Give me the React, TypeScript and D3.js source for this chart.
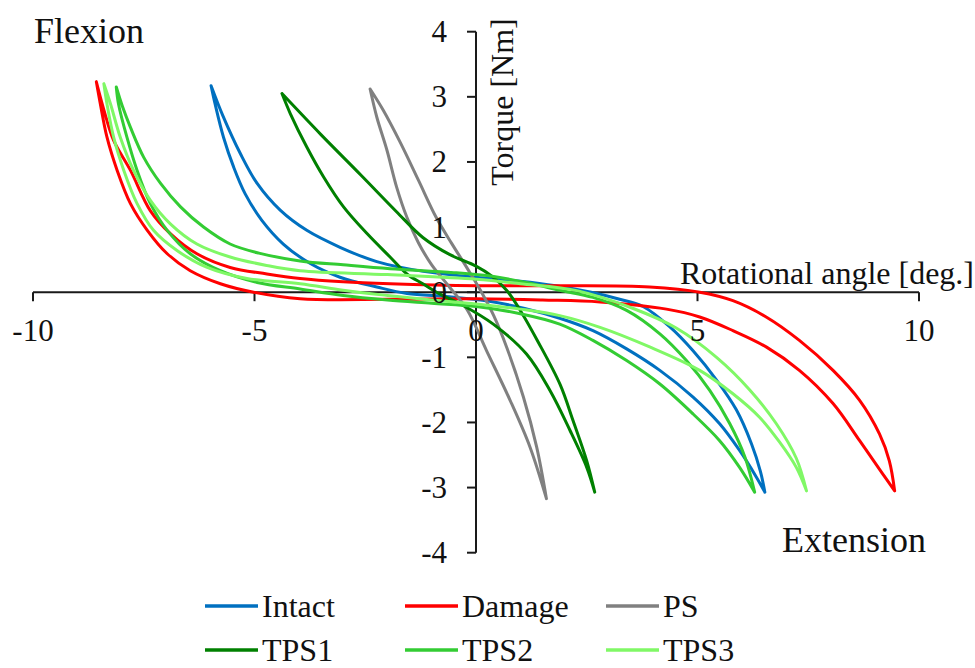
import React from 'react';
import * as d3 from 'd3';

type Pt = [number, number];

// axis ticks
const xTicks = [-10, -5, 0, 5, 10];
const yTicks = [-4, -3, -2, -1, 0, 1, 2, 3, 4];

// each loop: loading branch (flexion tip -> extension tip) and unloading branch (back)
const intactUp: Pt[] = [
  [-5.98, 3.17], [-5.72, 2.72], [-5.32, 2.13], [-4.94, 1.67], [-4.42, 1.26], [-3.82, 0.95],
  [-3.07, 0.69], [-2.24, 0.47], [-1.19, 0.32], [0, 0.23], [1.0, 0.17], [1.8, 0.1], [2.6, 0.0],
  [3.2, -0.1], [3.77, -0.22], [4.37, -0.53], [4.9, -0.9], [5.43, -1.35], [5.88, -1.81],
  [6.22, -2.33], [6.42, -2.75], [6.52, -3.07],
];
const intactDown: Pt[] = [
  [6.52, -3.07], [6.33, -2.84], [5.95, -2.43], [5.5, -2.02], [4.9, -1.61], [4.15, -1.2],
  [3.4, -0.87], [2.64, -0.59], [1.89, -0.4], [1.1, -0.25], [0.3, -0.14], [-0.6, -0.07],
  [-1.56, -0.02], [-2.24, 0.08], [-3.07, 0.23], [-3.74, 0.44], [-4.35, 0.74], [-4.83, 1.1],
  [-5.21, 1.51], [-5.47, 1.92], [-5.7, 2.38], [-5.89, 2.89], [-5.98, 3.17],
];

const damageUp: Pt[] = [
  [-8.57, 3.23], [-8.4, 2.8], [-8.18, 2.33], [-7.8, 1.87], [-7.35, 1.25], [-6.9, 0.9],
  [-6.3, 0.59], [-5.55, 0.38], [-4.72, 0.28], [-3.97, 0.21], [-3.0, 0.16], [-1.94, 0.13],
  [0, 0.1], [2, 0.1], [3.92, 0.08], [5.05, 0.0], [5.8, -0.13], [6.55, -0.38], [7.3, -0.74],
  [8.06, -1.2], [8.66, -1.66], [9.11, -2.18], [9.33, -2.59], [9.45, -3.05],
];
const damageDown: Pt[] = [
  [9.45, -3.05], [9.18, -2.79], [8.66, -2.28], [8.06, -1.71], [7.3, -1.2], [6.55, -0.84],
  [5.8, -0.59], [5.05, -0.38], [4.3, -0.26], [2.8, -0.15], [1.5, -0.12], [0, -0.1],
  [-2.0, -0.11], [-3.97, -0.1], [-5.02, 0.0], [-5.77, 0.13], [-6.45, 0.33], [-6.97, 0.59],
  [-7.42, 0.95], [-7.8, 1.36], [-8.1, 1.87], [-8.33, 2.38], [-8.48, 2.89], [-8.57, 3.23],
];

const psUp: Pt[] = [
  [-2.39, 3.12], [-2.09, 2.79], [-1.71, 2.3], [-1.3, 1.72], [-0.9, 1.15], [-0.55, 0.75],
  [-0.2, 0.37], [0.1, 0.03], [0.4, -0.36], [0.69, -0.84], [1.07, -1.61], [1.37, -2.38],
  [1.59, -3.17],
];
const psDown: Pt[] = [
  [1.59, -3.17], [1.22, -2.38], [0.77, -1.66], [0.24, -0.9], [-0.2, -0.27], [-0.6, 0.08],
  [-1.0, 0.42], [-1.3, 0.76], [-1.56, 1.15], [-1.79, 1.61], [-2.01, 2.18], [-2.24, 2.69],
  [-2.39, 3.12],
];

const tps1Up: Pt[] = [
  [-4.38, 3.05], [-3.5, 2.42], [-2.6, 1.8], [-1.8, 1.24], [-1.2, 0.84], [-0.6, 0.58],
  [0, 0.4], [0.35, 0.25], [0.69, 0.03], [1.0, -0.28], [1.4, -0.76], [1.9, -1.42],
  [2.19, -1.97], [2.5, -2.59], [2.68, -3.07],
];
const tps1Down: Pt[] = [
  [2.68, -3.07], [2.5, -2.69], [2.12, -2.12], [1.67, -1.51], [1.14, -0.95], [0.39, -0.49],
  [-0.3, -0.2], [-0.81, -0.03], [-1.2, 0.13], [-1.56, 0.28], [-1.94, 0.54], [-2.46, 0.9],
  [-2.99, 1.31], [-3.44, 1.77], [-3.82, 2.23], [-4.19, 2.74], [-4.38, 3.05],
];

const tps2Up: Pt[] = [
  [-8.12, 3.15], [-7.98, 2.85], [-7.8, 2.53], [-7.5, 2.07], [-7.12, 1.67], [-6.67, 1.31],
  [-6.15, 1.0], [-5.55, 0.74], [-4.9, 0.6], [-3.97, 0.48], [-3.0, 0.42], [-1.94, 0.36],
  [-0.5, 0.3], [0.4, 0.24], [1.2, 0.14], [1.89, 0.03], [2.64, -0.08], [3.4, -0.28],
  [4.15, -0.64], [4.75, -1.05], [5.28, -1.51], [5.73, -2.02], [6.07, -2.53], [6.29, -3.07],
];
const tps2Down: Pt[] = [
  [6.29, -3.07], [5.95, -2.69], [5.5, -2.28], [4.9, -1.87], [4.15, -1.41], [3.4, -1.05],
  [2.64, -0.74], [1.89, -0.49], [1.0, -0.33], [0, -0.22], [-1.0, -0.17], [-2.0, -0.12],
  [-3.0, -0.05], [-3.97, 0.05], [-4.94, 0.15], [-5.77, 0.33], [-6.45, 0.59], [-6.97, 0.95],
  [-7.35, 1.36], [-7.65, 1.87], [-7.88, 2.38], [-8.07, 2.89], [-8.12, 3.15],
];

const tps3Up: Pt[] = [
  [-8.4, 3.2], [-8.25, 2.89], [-8.03, 2.38], [-7.73, 1.87], [-7.35, 1.41], [-6.9, 1.05],
  [-6.3, 0.74], [-5.55, 0.54], [-4.72, 0.41], [-3.97, 0.33], [-2.0, 0.27], [0, 0.2],
  [1.0, 0.13], [2.3, 0.02], [3.55, -0.25], [4.52, -0.55], [5.43, -1.0], [6.18, -1.5],
  [6.78, -2.02], [7.23, -2.55], [7.46, -3.05],
];
const tps3Down: Pt[] = [
  [7.46, -3.05], [7.23, -2.69], [6.85, -2.3], [6.4, -1.92], [5.8, -1.56], [5.05, -1.2],
  [3.92, -0.84], [2.8, -0.54], [1.89, -0.36], [1.0, -0.26], [0, -0.18], [-1.0, -0.12],
  [-2.0, -0.05], [-3.0, 0.03], [-3.97, 0.13], [-5.17, 0.21], [-6.07, 0.38], [-6.75, 0.64],
  [-7.28, 0.95], [-7.65, 1.36], [-7.95, 1.87], [-8.18, 2.38], [-8.33, 2.89], [-8.4, 3.2],
];

const seriesNames = ['Intact', 'Damage', 'PS', 'TPS1', 'TPS2', 'TPS3'];
const seriesColors = ['#0070c0', '#ff0000', '#808080', '#008000', '#33cc33', '#80f866'];
const seriesLoops: Pt[][][] = [
  [intactUp, intactDown],
  [damageUp, damageDown],
  [psUp, psDown],
  [tps1Up, tps1Down],
  [tps2Up, tps2Down],
  [tps3Up, tps3Down],
];

const FONT = "Times New Roman, Liberation Serif, DejaVu Serif, Noto Serif, serif";

export default function App() {
  const width = 975;
  const height = 668;

  const x = d3.scaleLinear().domain([-10, 10]).range([33, 919]);
  const y = d3.scaleLinear().domain([-4, 4]).range([552.7, 31.7]);

  const line = d3
    .line<Pt>()
    .x((d) => x(d[0]))
    .y((d) => y(d[1]))
    .curve(d3.curveCatmullRom.alpha(0.5));

  // legend slots (3 per row)
  const legendCol = [205, 405, 606];
  const legendRow = [606, 650];

  return (
    <div style={{ position: 'fixed', left: 0, top: 0, width, height, background: '#fff' }}>
      <svg width={width} height={height} style={{ display: 'block' }}>
        <rect x={0} y={0} width={width} height={height} fill="#fff" />

        {/* axes */}
        <g stroke="#1a1a1a" strokeWidth={2} fill="none">
          <line x1={x(-10)} x2={x(10)} y1={y(0)} y2={y(0)} />
          <line x1={x(0)} x2={x(0)} y1={y(4)} y2={y(-4)} />
          {xTicks.map((t) => (
            <line key={'xt' + t} x1={x(t)} x2={x(t)} y1={y(0)} y2={y(0) + 9} />
          ))}
          {yTicks.map((t) => (
            <line key={'yt' + t} x1={x(0) - 9} x2={x(0)} y1={y(t)} y2={y(t)} />
          ))}
        </g>

        {/* loops */}
        <g fill="none" strokeWidth={3} strokeLinejoin="round" strokeLinecap="round">
          {seriesLoops.map((loop, i) => (
            <path
              key={seriesNames[i]}
              d={(line(loop[0]) || '') + (line(loop[1]) || '')}
              stroke={seriesColors[i]}
            />
          ))}
        </g>

        <g fontFamily={FONT} fill="#111">
          {/* tick labels */}
          {xTicks.map((t) => (
            <text key={'xl' + t} x={x(t)} y={341} textAnchor="middle" fontSize={31}>
              {String(t)}
            </text>
          ))}
          {yTicks.map((t) => (
            <text key={'yl' + t} x={447} y={y(t)} dy="0.34em" textAnchor="end" fontSize={31}>
              {String(t)}
            </text>
          ))}

          {/* axis titles */}
          <text x={974} y={284} fontSize={32} textAnchor="end">
            Rotational angle [deg.]
          </text>
          <text transform="translate(513, 102) rotate(-90)" fontSize={32} textAnchor="middle">
            Torque [Nm]
          </text>
          <text x={34} y={43} fontSize={36}>
            Flexion
          </text>
          <text x={782} y={552} fontSize={36}>
            Extension
          </text>

          {/* legend */}
          {seriesNames.map((name, i) => {
            const cx = legendCol[i % 3];
            const cy = legendRow[Math.floor(i / 3)];
            return (
              <g key={'lg' + name}>
                <line x1={cx} x2={cx + 53} y1={cy} y2={cy} stroke={seriesColors[i]} strokeWidth={3.5} />
                <text x={cx + 57} y={cy + 11} fontSize={32}>
                  {name}
                </text>
              </g>
            );
          })}
        </g>
      </svg>
    </div>
  );
}
